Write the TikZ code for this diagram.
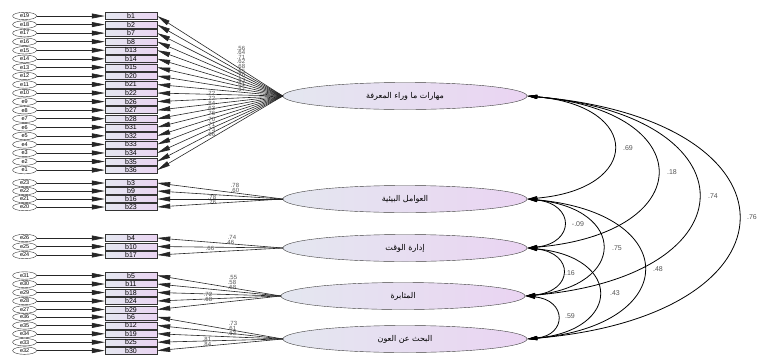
\documentclass[tikz,border=0pt]{standalone}
\usepackage{fontspec}
\setmainfont{Liberation Sans}
\newfontfamily\arabicfont[Script=Arabic]{DejaVu Sans}
\TeXXeTstate=1
\usepackage{tikz}
\usetikzlibrary{shapes.geometric, arrows.meta, positioning, calc}
\definecolor{latentgray}{RGB}{228, 231, 240}
\definecolor{latentlilac}{RGB}{234, 212, 242}
\definecolor{labelgray}{RGB}{85, 85, 85}

\begin{document}
\begin{tikzpicture}[x=1pt, y=-1pt,
    item/.style={rectangle, draw=black!80, left color=latentgray, right color=latentlilac,
                 minimum width=52pt, minimum height=7pt, inner sep=0pt, font=\fontsize{7}{7}\selectfont},
    err/.style={ellipse, draw=black!80, fill=white, minimum width=24pt, minimum height=7.5pt,
                inner sep=0pt, font=\fontsize{5.5}{5.5}\selectfont},
    factor/.style={ellipse, draw=black!75, left color=latentgray, right color=latentlilac,
                   minimum width=244pt, minimum height=27pt, inner sep=0pt,
                   font=\arabicfont\fontsize{8}{8}\selectfont},
    arr/.style={-{Triangle[length=13pt, width=5pt]}, black!85, line width=0.6pt},
    cov/.style={{Triangle[length=10pt, width=4pt]}-{Triangle[length=10pt, width=4pt]}, black, line width=0.8pt},
    lbl/.style={font=\fontsize{6}{6}\selectfont, text=labelgray, inner sep=0pt},
]
\useasboundingbox (0,0) rectangle (764,354);

% latent factors
\node[factor] (f1) at (405,96) {\beginR مهارات ما وراء المعرفة\endR};
\node[factor] (f2) at (405,199) {\beginR العوامل البيئية\endR};
\node[factor] (f3) at (405,248) {\beginR إدارة الوقت\endR};
\node[factor] (f4) at (403,296) {\beginR المثابرة\endR};
\node[factor] (f5) at (405,339) {\beginR البحث عن العون\endR};

% first factor: 19 items
\foreach \bn/\en/\ld [count=\i] in {1/19/.56, 2/18/.64, 7/17/.71, 8/16/.62, 13/15/.68, 14/14/.65,
    15/13/.70, 20/12/.63, 21/11/.61, 22/10/.67, 26/9/.72, 27/8/.72, 28/7/.84, 31/6/.63,
    32/5/.76, 33/4/.70, 34/3/.71, 35/2/.73, 36/1/.66} {
  \node[item] (b\bn) at (131,{16+8.56*(\i-1)}) {b\bn};
  \node[err, left=68pt of b\bn] (e\en) {e\en};
}
\foreach \bn/\en/\ld [count=\i] in {1/19/.56, 2/18/.64, 7/17/.71, 8/16/.62, 13/15/.68, 14/14/.65,
    15/13/.70, 20/12/.63, 21/11/.61, 22/10/.67, 26/9/.72, 27/8/.72, 28/7/.84, 31/6/.63,
    32/5/.76, 33/4/.70, 34/3/.71, 35/2/.73, 36/1/.66} {
  \draw[arr] (e\en.east) -- (b\bn.west);
  \draw[arr] (f1.west) -- (b\bn.east);
  \pgfmathsetmacro\lx{\i<11 ? 241 : 211}
  \pgfmathsetmacro\ly{\i<11 ? 48+4.6*(\i-1) : 93+5.2*(\i-11)}
  \node[lbl] at (\lx,\ly) {\ld};
}

% second factor
\foreach \bn/\en/\ld/\lx/\ly [count=\i] in {3/23/.78/235/185, 9/22/.60/235/190,
    16/21/.78/212/197, 23/20/.76/212/202} {
  \node[item] (b\bn) at (131,{183+8*(\i-1)}) {b\bn};
  \node[err, left=68pt of b\bn] (e\en) {e\en};
  \draw[arr] (e\en.east) -- (b\bn.west);
  \draw[arr] (f2.west) -- (b\bn.east);
  \node[lbl] at (\lx,\ly) {\ld};
}

% third factor
\foreach \bn/\en/\ld/\lx/\ly [count=\i] in {4/26/.74/232/237, 10/25/.46/230/242, 17/24/.66/210/248} {
  \node[item] (b\bn) at (131,{238+8.5*(\i-1)}) {b\bn};
  \node[err, left=68pt of b\bn] (e\en) {e\en};
  \draw[arr] (e\en.east) -- (b\bn.west);
  \draw[arr] (f3.west) -- (b\bn.east);
  \node[lbl] at (\lx,\ly) {\ld};
}

% fourth factor
\foreach \bn/\en/\ld/\lx/\ly [count=\i] in {5/31/.55/233/277, 11/30/.58/232/282, 18/29/.68/232/287,
    24/28/.72/208/294, 29/27/.68/208/299} {
  \node[item] (b\bn) at (131,{275.5+8.5*(\i-1)}) {b\bn};
  \node[err, left=68pt of b\bn] (e\en) {e\en};
  \draw[arr] (e\en.east) -- (b\bn.west);
  \draw[arr] (f4.west) -- (b\bn.east);
  \node[lbl] at (\lx,\ly) {\ld};
}

% fifth factor
\foreach \bn/\en/\ld/\lx/\ly [count=\i] in {6/36/.73/233/323, 12/35/.61/232/328, 19/34/.63/232/333,
    25/33/.81/207/339, 30/32/.84/207/344} {
  \node[item] (b\bn) at (131,{317+8.4*(\i-1)}) {b\bn};
  \node[err, left=68pt of b\bn] (e\en) {e\en};
  \draw[arr] (e\en.east) -- (b\bn.west);
  \draw[arr] (f5.west) -- (b\bn.east);
  \node[lbl] at (\lx,\ly) {\ld};
}

% correlations
\draw[cov] (f1.east) .. controls (642,106) and (642,189) .. (f2.east);
\draw[cov] (f1.east) .. controls (700,111) and (700,233) .. (f3.east);
\draw[cov] (f1.east) .. controls (755,116) and (755,276) .. (f4.east);
\draw[cov] (f1.east) .. controls (808,120) and (808,315) .. (f5.east);
\draw[cov] (f2.east) .. controls (575,204) and (575,243) .. (f3.east);
\draw[cov] (f2.east) .. controls (627,209) and (627,286) .. (f4.east);
\draw[cov] (f2.east) .. controls (682,213) and (682,325) .. (f5.east);
\draw[cov] (f3.east) .. controls (574,253) and (574,291) .. (f4.east);
\draw[cov] (f3.east) .. controls (622,257) and (622,330) .. (f5.east);
\draw[cov] (f4.east) .. controls (567,300) and (567,335) .. (f5.east);
\node[lbl, font=\fontsize{7}{7}\selectfont] (r12) at (628,148) {.69};
\node[lbl, font=\fontsize{7}{7}\selectfont] (r13) at (672,172) {.18};
\node[lbl, font=\fontsize{7}{7}\selectfont] (r14) at (713,196) {.74};
\node[lbl, font=\fontsize{7}{7}\selectfont] (r15) at (752,217) {.76};
\node[lbl, font=\fontsize{7}{7}\selectfont] (r23) at (578,224) {-.09};
\node[lbl, font=\fontsize{7}{7}\selectfont] (r24) at (617,248) {.75};
\node[lbl, font=\fontsize{7}{7}\selectfont] (r25) at (658,269) {.48};
\node[lbl, font=\fontsize{7}{7}\selectfont] (r34) at (570,273) {.16};
\node[lbl, font=\fontsize{7}{7}\selectfont] (r35) at (615,293) {.43};
\node[lbl, font=\fontsize{7}{7}\selectfont] (r45) at (570,316) {.59};

\end{tikzpicture}
\end{document}
